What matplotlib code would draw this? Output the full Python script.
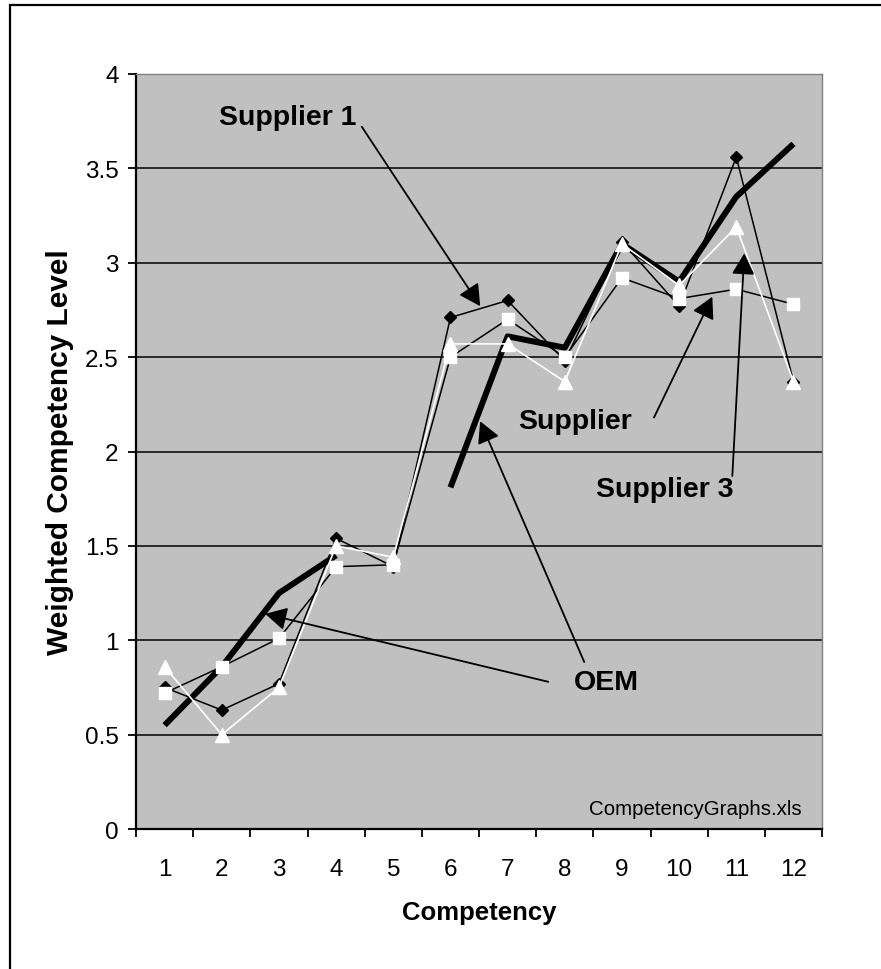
import matplotlib.pyplot as plt
from matplotlib.patches import Rectangle, FancyArrowPatch
import numpy as np

plt.rcParams['font.family'] = ['Liberation Sans', 'DejaVu Sans']

# data
competency = [1, 2, 3, 4, 5, 6, 7, 8, 9, 10, 11, 12]
oem = [0.55, 0.86, 1.25, 1.45, np.nan, 1.81, 2.61, 2.55, 3.10, 2.90, 3.35, 3.63]
supplier_1 = [0.75, 0.63, 0.77, 1.54, 1.39, 2.71, 2.80, 2.48, 3.11, 2.77, 3.56, 2.37]
supplier_2 = [0.72, 0.86, 1.01, 1.39, 1.40, 2.50, 2.70, 2.50, 2.92, 2.81, 2.86, 2.78]
supplier_3 = [0.86, 0.50, 0.75, 1.50, 1.44, 2.57, 2.57, 2.37, 3.10, 2.88, 3.19, 2.37]

fig = plt.figure(figsize=(8.81, 9.70), dpi=100)
ax = fig.add_axes([0.1544, 0.1443, 0.7787, 0.7784])
ax.set_facecolor('#c0c0c0')

# frame of the chart (cut off on right and bottom)
fig.patches.append(Rectangle((0.0114, -0.2), 2, 0.9938 + 0.2, transform=fig.transFigure,
                             fill=False, edgecolor='black', linewidth=1.6))

ax.plot(competency, oem, color='black', linewidth=4.3, solid_capstyle='butt', zorder=3)
ax.plot(competency, supplier_1, color='black', linewidth=1.1, marker='D', markersize=6.5,
        markerfacecolor='black', markeredgecolor='black', zorder=4)
ax.plot(competency, supplier_2, color='black', linewidth=1.1, marker='s', markersize=8,
        markerfacecolor='white', markeredgecolor='white', zorder=5)
ax.plot(competency, supplier_3, color='white', linewidth=1.2, marker='^', markersize=10,
        markerfacecolor='white', markeredgecolor='white', zorder=6)

ax.set_xlim(0.5, 12.5)
ax.set_ylim(0, 4)
ax.set_yticks(np.arange(0, 4.01, 0.5))
ax.set_yticklabels(['0', '0.5', '1', '1.5', '2', '2.5', '3', '3.5', '4'])
ax.set_xticks(competency)
ax.set_xticks(np.arange(0.5, 12.6, 1), minor=True)
ax.grid(axis='y', color='black', linewidth=1.1, zorder=1)
ax.set_axisbelow(True)

ax.tick_params(axis='x', which='major', length=0, pad=21, labelsize=17.5)
ax.tick_params(axis='x', which='minor', length=5.5, width=1.3, direction='out')
ax.tick_params(axis='y', length=5.5, width=1.3, direction='out', pad=7, labelsize=17.5)

for s in ['top', 'right']:
    ax.spines[s].set_color('#808080')
    ax.spines[s].set_linewidth(1.0)
for s in ['left', 'bottom']:
    ax.spines[s].set_color('black')
    ax.spines[s].set_linewidth(1.6)

ax.set_xlabel('Competency', fontsize=18.5, fontweight='bold', labelpad=14)
ax.set_ylabel('Weighted Competency Level', fontsize=21.5, fontweight='bold', labelpad=8)

def arrow(tail, tip):
    a = FancyArrowPatch(tail, tip, arrowstyle='-|>,head_length=0.65,head_width=0.35',
                        mutation_scale=20, color='black', linewidth=1.3,
                        shrinkA=0, shrinkB=0, zorder=7)
    ax.add_patch(a)

lab = dict(fontsize=20.5, fontweight='bold', ha='center', va='center', zorder=8)
ax.text(3.16, 3.77, 'Supplier 1', **lab)
arrow((4.45, 3.72), (6.52, 2.77))
ax.text(8.72, 0.78, 'OEM', **lab)
arrow((7.71, 0.78), (2.76, 1.14))
arrow((8.34, 0.885), (6.52, 2.16))
ax.text(8.18, 2.16, 'Supplier', **lab)
arrow((9.56, 2.18), (10.58, 2.82))
ax.text(9.74, 1.80, 'Supplier 3', **lab)
arrow((10.93, 1.87), (11.14, 3.05))

ax.text(12.15, 0.11, 'CompetencyGraphs.xls', fontsize=14.8, ha='right', va='center', zorder=8)

fig.savefig('out.png', dpi=100)
